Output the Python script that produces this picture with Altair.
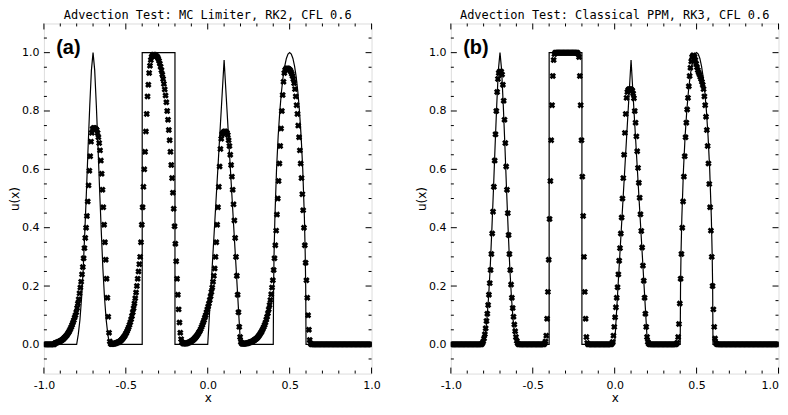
import altair as alt
import pandas as pd
import numpy as np

# ---------------- data ----------------
# cell centres of the 400-cell grid on [-1, 1]
N_CELLS = 400
x_grid = -0.9975 + 0.005 * np.arange(N_CELLS)

# numerical solution, panel (a): MC limiter, RK2
u_mc = [
    0, 0, 0, 0, 0, 0, 0, 0, 0, 0, 0, 0, 0,
    0.004, 0.005, 0.006, 0.007, 0.008, 0.009, 0.011, 0.012, 0.014, 0.016, 0.018, 0.021, 0.024, 0.027, 0.03, 0.034, 0.038,
    0.043, 0.048, 0.054, 0.06, 0.067, 0.075, 0.083, 0.092, 0.10,
    0.11, 0.125, 0.14, 0.155, 0.175, 0.195, 0.215, 0.24, 0.265, 0.295, 0.33, 0.365, 0.40, 0.44, 0.49, 0.545, 0.595, 0.645, 0.695, 0.725,
    0.738, 0.742, 0.742, 0.74, 0.738, 0.735, 0.725, 0.71, 0.69, 0.665, 0.63, 0.585, 0.53, 0.47, 0.41, 0.35, 0.29, 0.225, 0.16, 0.095, 0.04, 0.01, 0.002,
    0.001, 0.001, 0.002, 0.002, 0.003, 0.004, 0.005, 0.006, 0.007, 0.008, 0.01, 0.012, 0.015, 0.018, 0.021, 0.025, 0.029, 0.034, 0.039, 0.045,
    0.052, 0.059, 0.067, 0.076, 0.086, 0.097, 0.11, 0.124, 0.14, 0.158, 0.178, 0.2, 0.225,
    0.25, 0.275, 0.30, 0.35, 0.41, 0.47, 0.54, 0.60, 0.66, 0.73, 0.79, 0.85, 0.89, 0.93, 0.955, 0.975, 0.985, 0.99, 0.993, 0.993,
    0.992, 0.99, 0.988, 0.985, 0.98, 0.972, 0.963, 0.952, 0.94, 0.925, 0.91, 0.893, 0.874, 0.853, 0.83, 0.80, 0.77, 0.735, 0.70, 0.66,
    0.615, 0.57, 0.52, 0.465, 0.405, 0.345, 0.285, 0.225, 0.17, 0.12, 0.075, 0.04, 0.018,
    0.008, 0.004, 0.003, 0.003, 0.003, 0.003, 0.004, 0.005, 0.006, 0.007, 0.008, 0.01, 0.012, 0.014, 0.016, 0.019, 0.022, 0.025, 0.029, 0.033,
    0.037, 0.042, 0.047, 0.053, 0.06, 0.067, 0.075, 0.083, 0.092, 0.10, 0.11,
    0.12, 0.13, 0.14, 0.152, 0.165, 0.18, 0.195, 0.215, 0.235, 0.26, 0.30, 0.35, 0.41, 0.47, 0.54, 0.61, 0.67, 0.705,
    0.72, 0.725, 0.728, 0.73, 0.73, 0.728, 0.725, 0.718, 0.70, 0.68, 0.65, 0.615, 0.575, 0.53, 0.48, 0.425, 0.365, 0.30, 0.235, 0.17,
    0.11, 0.06, 0.025, 0.008, 0.003,
    0.002, 0.002, 0.002, 0.003, 0.003, 0.004, 0.004, 0.005, 0.006, 0.007, 0.008, 0.009, 0.01, 0.012, 0.014, 0.016, 0.018, 0.02, 0.023, 0.026,
    0.03, 0.034, 0.038, 0.043, 0.048, 0.054, 0.06, 0.067, 0.075, 0.085, 0.095, 0.107, 0.12, 0.135, 0.152, 0.172, 0.195, 0.22,
    0.255, 0.295, 0.34, 0.39, 0.445, 0.50, 0.56, 0.62, 0.68, 0.74, 0.80, 0.855, 0.90, 0.93, 0.94, 0.945, 0.946, 0.946, 0.945, 0.943,
    0.94, 0.935, 0.928, 0.92, 0.91, 0.895, 0.875, 0.85, 0.82, 0.79, 0.75, 0.71, 0.665, 0.62, 0.57, 0.515, 0.46, 0.40, 0.34, 0.28,
    0.22, 0.16, 0.10, 0.05, 0.015, 0.003,
    0, 0, 0, 0, 0, 0, 0, 0, 0, 0, 0, 0, 0, 0, 0, 0, 0, 0, 0, 0,
    0, 0, 0, 0, 0, 0, 0, 0, 0, 0, 0, 0, 0, 0, 0, 0, 0, 0, 0, 0,
    0, 0, 0, 0, 0, 0, 0, 0, 0, 0, 0, 0, 0, 0, 0, 0, 0, 0, 0, 0,
    0, 0, 0, 0, 0, 0, 0, 0, 0, 0, 0, 0, 0, 0,
]

# numerical solution, panel (b): classical PPM, RK3
u_ppm = [
    0, 0, 0, 0, 0, 0, 0, 0, 0, 0, 0, 0, 0, 0, 0, 0, 0, 0, 0, 0,
    0, 0, 0, 0, 0, 0, 0, 0, 0, 0, 0, 0, 0, 0, 0, 0, 0, 0,
    0.004, 0.01, 0.02, 0.035, 0.055, 0.08, 0.105, 0.135, 0.17, 0.21, 0.255, 0.31, 0.38, 0.455, 0.54, 0.63, 0.72, 0.80, 0.865, 0.91,
    0.93, 0.935, 0.935, 0.935, 0.925, 0.89, 0.835, 0.77, 0.69, 0.61, 0.53, 0.45, 0.375, 0.31, 0.255, 0.205, 0.16, 0.125, 0.095, 0.068,
    0.045, 0.025, 0.012, 0.004,
    0, 0, 0, 0, 0, 0, 0, 0, 0, 0, 0, 0, 0, 0, 0, 0, 0, 0, 0, 0,
    0, 0, 0, 0, 0, 0, 0, 0, 0, 0, 0, 0,
    0.003, 0.01, 0.03, 0.088, 0.18, 0.29, 0.43, 0.56, 0.70, 0.82, 0.92, 0.975, 0.995,
    1.0, 1.0, 1.0, 1.0, 1.0, 1.0, 1.0, 1.0, 1.0, 1.0, 1.0, 1.0, 1.0, 1.0, 1.0, 1.0, 1.0, 1.0, 1.0, 1.0,
    1.0, 1.0, 1.0, 1.0, 1.0, 1.0, 1.0, 1.0,
    0.995, 0.985, 0.92, 0.82, 0.70, 0.575, 0.44, 0.30, 0.18, 0.088, 0.025, 0.005,
    0, 0, 0, 0, 0, 0, 0, 0, 0, 0, 0, 0, 0, 0, 0, 0, 0, 0, 0, 0,
    0, 0, 0, 0, 0, 0, 0, 0, 0,
    0.002, 0.008, 0.03, 0.06, 0.093, 0.127, 0.16, 0.196, 0.24, 0.287, 0.33, 0.38, 0.435, 0.50, 0.57, 0.65, 0.725, 0.79, 0.845, 0.865,
    0.872, 0.875, 0.875, 0.875, 0.873, 0.87, 0.86, 0.844, 0.80, 0.76, 0.713, 0.662, 0.605, 0.554, 0.503, 0.446, 0.389, 0.332, 0.27, 0.218,
    0.16, 0.105, 0.06, 0.025, 0.008, 0.002,
    0, 0, 0, 0, 0, 0, 0, 0, 0, 0, 0, 0, 0, 0, 0, 0, 0, 0, 0, 0,
    0, 0, 0, 0, 0, 0, 0, 0, 0, 0, 0, 0, 0,
    0.002, 0.006, 0.025, 0.07, 0.14, 0.225, 0.31, 0.40, 0.49, 0.575, 0.645, 0.71, 0.76, 0.805, 0.845, 0.885, 0.92, 0.948, 0.97, 0.985,
    0.99, 0.99, 0.985, 0.975, 0.962, 0.95, 0.94, 0.932, 0.925, 0.917, 0.91, 0.90, 0.89, 0.875, 0.85, 0.82, 0.78, 0.735, 0.68, 0.62,
    0.55, 0.47, 0.39, 0.30, 0.2, 0.12, 0.06, 0.02, 0.005, 0.001,
    0, 0, 0, 0, 0, 0, 0, 0, 0, 0, 0, 0, 0, 0, 0, 0, 0, 0, 0, 0,
    0, 0, 0, 0, 0, 0, 0, 0, 0, 0, 0, 0, 0, 0, 0, 0, 0, 0, 0, 0,
    0, 0, 0, 0, 0, 0, 0, 0, 0, 0, 0, 0, 0, 0, 0, 0, 0, 0, 0, 0,
    0, 0, 0, 0, 0, 0, 0, 0, 0, 0, 0, 0, 0, 0, 0,
]

# exact solution (solid line)
ex_x = [-1.0, -0.8, -0.79, -0.78, -0.77, -0.76, -0.75, -0.74, -0.73, -0.72, -0.71, -0.70,
        -0.69, -0.68, -0.67, -0.66, -0.65, -0.64, -0.63, -0.62, -0.61, -0.6,
        -0.4, -0.4, -0.2, -0.2, 0.0, 0.1, 0.2, 0.4, 0.402, 0.405, 0.41,
        0.42, 0.43, 0.44, 0.45, 0.46, 0.47, 0.48, 0.49, 0.50, 0.51, 0.52, 0.53, 0.54,
        0.55, 0.56, 0.57, 0.58, 0.59, 0.595, 0.598, 0.6, 1.0]
ex_u = [0, 0, 0.035, 0.085, 0.16, 0.26, 0.39, 0.53, 0.68, 0.82, 0.94, 1.0,
        0.94, 0.82, 0.68, 0.53, 0.39, 0.26, 0.16, 0.085, 0.035, 0,
        0, 1, 1, 0, 0, 0.975, 0, 0, 0.199, 0.312, 0.436,
        0.6, 0.714, 0.8, 0.866, 0.917, 0.954, 0.98, 0.995, 1.0, 0.995, 0.98, 0.954, 0.917,
        0.866, 0.8, 0.714, 0.6, 0.436, 0.312, 0.199, 0, 0]

titles = ["Advection Test: MC Limiter, RK2, CFL 0.6",
          "Advection Test: Classical PPM, RK3, CFL 0.6"]
panel_tags = ["(a)", "(b)"]
tag_pos = [-0.925, 1.015]

x_major = [-1.0, -0.5, 0.0, 0.5, 1.0]
x_minor = [-0.9, -0.8, -0.7, -0.6, -0.4, -0.3, -0.2, -0.1, 0.1, 0.2, 0.3, 0.4, 0.6, 0.7, 0.8, 0.9]
y_major = [0.0, 0.2, 0.4, 0.6, 0.8, 1.0]
y_minor = [-0.05, 0.05, 0.1, 0.15, 0.25, 0.3, 0.35, 0.45, 0.5, 0.55, 0.65, 0.7, 0.75, 0.85, 0.9, 0.95, 1.05]

W, H = 328.5, 351
FONT = "DejaVu Sans"
TITLE_FONT = "DejaVu Sans Mono"
X_SHAPE = "M-1,-0.4L-0.4,-1L0,-0.6L0.4,-1L1,-0.4L0.6,0L1,0.4L0.4,1L0,0.6L-0.4,1L-1,0.4L-0.6,0Z"
LABEL_EXPR = "datum.value < 0 ? '-' + format(-datum.value, '.1f') : format(datum.value, '.1f')"

xs = alt.Scale(domain=[-1, 1], nice=False, zero=False, padding=0)
ys = alt.Scale(domain=[-0.1, 1.1], nice=False, zero=False, padding=0)
y_axis = alt.Axis(values=y_major, format=".1f", ticks=False, domain=False, grid=False, labelFlush=False,
                  labelPadding=5, titlePadding=0, labelFont=FONT, labelFontSize=11,
                  titleFont=FONT, titleFontSize=12, labelColor="black", titleColor="black",
                  titleFontWeight="normal")
Y = alt.Y("u:Q", scale=ys, axis=y_axis, title="u(x)")


def make_x(last_panel):
    kw = dict(values=x_major, labelExpr=LABEL_EXPR, ticks=False, domain=False, grid=False,
              labelFlush=False, labelPadding=6, titlePadding=2,
              labelFont=FONT, labelFontSize=11, titleFont=FONT, titleFontSize=12,
              labelColor="black", titleColor="black", titleFontWeight="normal")
    if last_panel:
        # keep the last label inside the page
        kw["labelAlign"] = {"condition": {"test": "datum.value >= 1", "value": "right"}, "value": "center"}
    return alt.X("x:Q", scale=xs, axis=alt.Axis(**kw), title="x")


def panel(u_vals, title, tag, last_panel):
    X = make_x(last_panel)
    pts = pd.DataFrame({"x": x_grid, "u": u_vals})
    exact = pd.DataFrame({"x": ex_x, "u": ex_u, "k": list(range(len(ex_x)))})
    xmaj = pd.DataFrame({"x": x_major})
    xmin = pd.DataFrame({"x": x_minor})
    ymaj = pd.DataFrame({"u": y_major})
    ymin = pd.DataFrame({"u": y_minor})
    tagdf = pd.DataFrame({"x": [tag_pos[0]], "u": [tag_pos[1]], "t": [tag]})

    line = alt.Chart(exact).mark_line(color="black", strokeWidth=1.2, clip=True).encode(
        x=X, y=Y, order=alt.Order("k:Q"))
    points = alt.Chart(pts).mark_point(shape=X_SHAPE, filled=True, size=42,
                                       color="black", opacity=1, clip=True).encode(x=X, y=Y)
    layers = [line, points]
    for df, L in [(xmaj, 6), (xmin, 3)]:
        layers.append(alt.Chart(df).mark_rule(color="black", strokeWidth=1).encode(
            x=X, y=alt.value(H), y2=alt.value(H - L)))
        layers.append(alt.Chart(df).mark_rule(color="black", strokeWidth=1).encode(
            x=X, y=alt.value(0), y2=alt.value(L)))
    for df, L in [(ymaj, 6), (ymin, 3)]:
        layers.append(alt.Chart(df).mark_rule(color="black", strokeWidth=1).encode(
            y=Y, x=alt.value(0), x2=alt.value(L)))
        layers.append(alt.Chart(df).mark_rule(color="black", strokeWidth=1).encode(
            y=Y, x=alt.value(W - L), x2=alt.value(W)))
    layers.append(alt.Chart(tagdf).mark_text(font="Liberation Sans", fontWeight="bold", fontSize=20,
                                             align="left", baseline="middle", color="black").encode(
        x=X, y=Y, text="t:N"))
    return alt.layer(*layers).properties(
        width=W, height=H,
        title=alt.TitleParams(title, font=TITLE_FONT, fontSize=12, fontWeight="normal", color="black",
                              anchor="middle", frame="group", offset=1))


chart = alt.hconcat(panel(u_mc, titles[0], panel_tags[0], False),
                    panel(u_ppm, titles[1], panel_tags[1], True), spacing=34).properties(
    padding={"left": 0, "top": 0, "right": 0, "bottom": 0}
).configure_view(stroke="black", strokeWidth=1.3).configure(background="white")

chart.save("out.html", embed_options={"renderer": "svg", "actions": False})
